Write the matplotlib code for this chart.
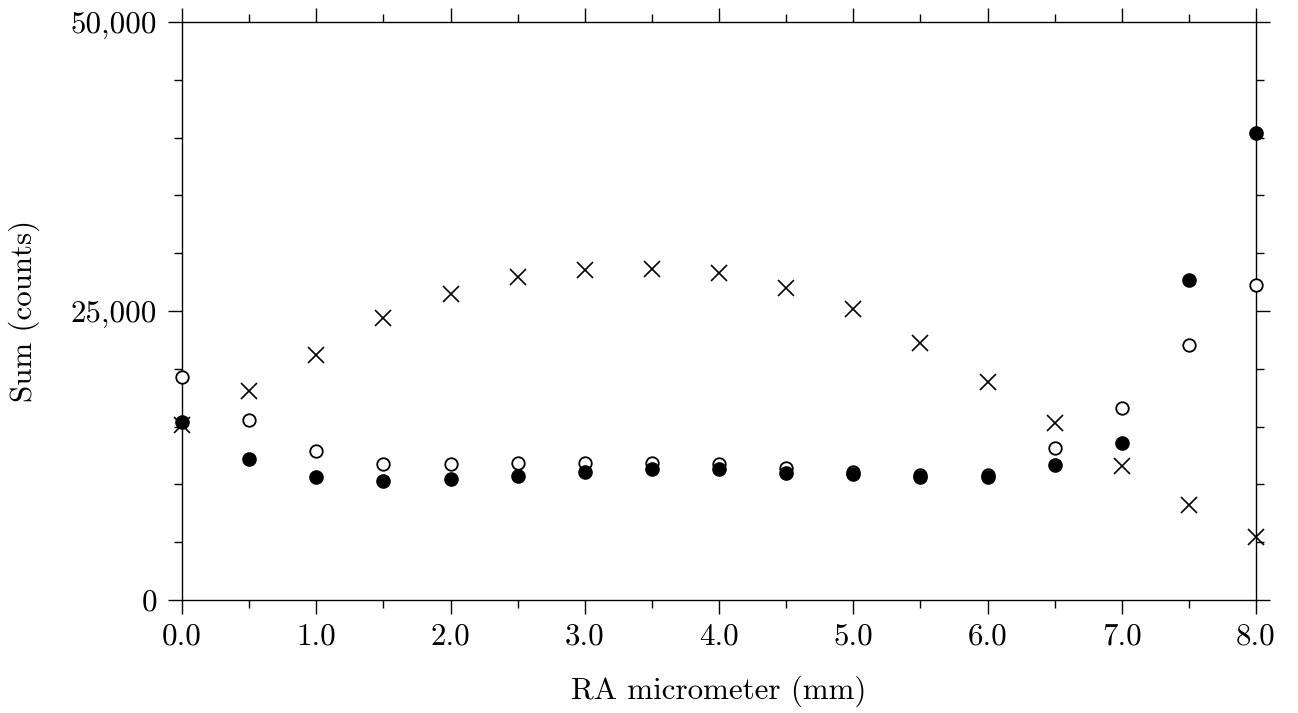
import matplotlib
matplotlib.use("Agg")
import matplotlib.pyplot as plt
from matplotlib.ticker import FixedLocator, MultipleLocator

plt.rcParams['font.family'] = ['cmr10', 'DejaVu Serif']
plt.rcParams['axes.formatter.use_mathtext'] = True

x = [0.0, 0.5, 1.0, 1.5, 2.0, 2.5, 3.0, 3.5, 4.0, 4.5, 5.0, 5.5, 6.0, 6.5, 7.0, 7.5, 8.0]
crosses = [15140, 18080, 21190, 24390, 26470, 27940, 28550, 28630, 28290, 26990,
           25170, 22230, 18860, 15310, 11590, 8220, 5450]
open_circles = [19290, 15570, 12890, 11770, 11770, 11850, 11850, 11850, 11770, 11420,
                11070, 10810, 10810, 13150, 16610, 22060, 27250]
filled_circles = [15400, 12200, 10640, 10290, 10470, 10730, 11070, 11330, 11330, 10990,
                  10900, 10640, 10640, 11680, 13580, 27680, 40400]

xticks = [0, 1, 2, 3, 4, 5, 6, 7, 8]
xticklabels = ["0.0", "1.0", "2.0", "3.0", "4.0", "5.0", "6.0", "7.0", "8.0"]
yticks = [0, 25000, 50000]
yticklabels = ["0", "25,000", "50,000"]

fig = plt.figure(figsize=(12.98, 7.13), dpi=100)
ax = fig.add_axes([182/1298, 1 - 600/713, (1256-182)/1298, (600-22)/713])

ax.plot(x, crosses, linestyle='none', marker='x', markersize=12, markeredgewidth=1.2,
        color='black', clip_on=False, zorder=3)
ax.plot(x, open_circles, linestyle='none', marker='o', markersize=9, markeredgewidth=1.3,
        markerfacecolor='white', markeredgecolor='black', clip_on=False, zorder=4)
ax.plot(x, filled_circles, linestyle='none', marker='o', markersize=9.5,
        color='black', clip_on=False, zorder=5)

ax.set_xlim(0, 8)
ax.set_ylim(0, 50000)
ax.xaxis.set_major_locator(FixedLocator(xticks))
ax.set_xticklabels(xticklabels)
ax.xaxis.set_minor_locator(MultipleLocator(0.5))
ax.yaxis.set_major_locator(FixedLocator(yticks))
ax.set_yticklabels(yticklabels)
ax.yaxis.set_minor_locator(MultipleLocator(5000))

ax.tick_params(which='both', direction='out', top=True, right=True, width=1.0, color='black')
ax.tick_params(which='major', length=10, labelsize=22.3)
ax.tick_params(axis='x', which='major', pad=6)
ax.tick_params(axis='y', which='major', pad=8)
ax.tick_params(which='minor', length=6)
for s in ax.spines.values():
    s.set_linewidth(1.0)

ax.set_xlabel("RA micrometer (mm)", fontsize=22.3, labelpad=18)
ax.set_ylabel("Sum (counts)", fontsize=22.3, labelpad=22)

fig.savefig("out.png", dpi=100)
